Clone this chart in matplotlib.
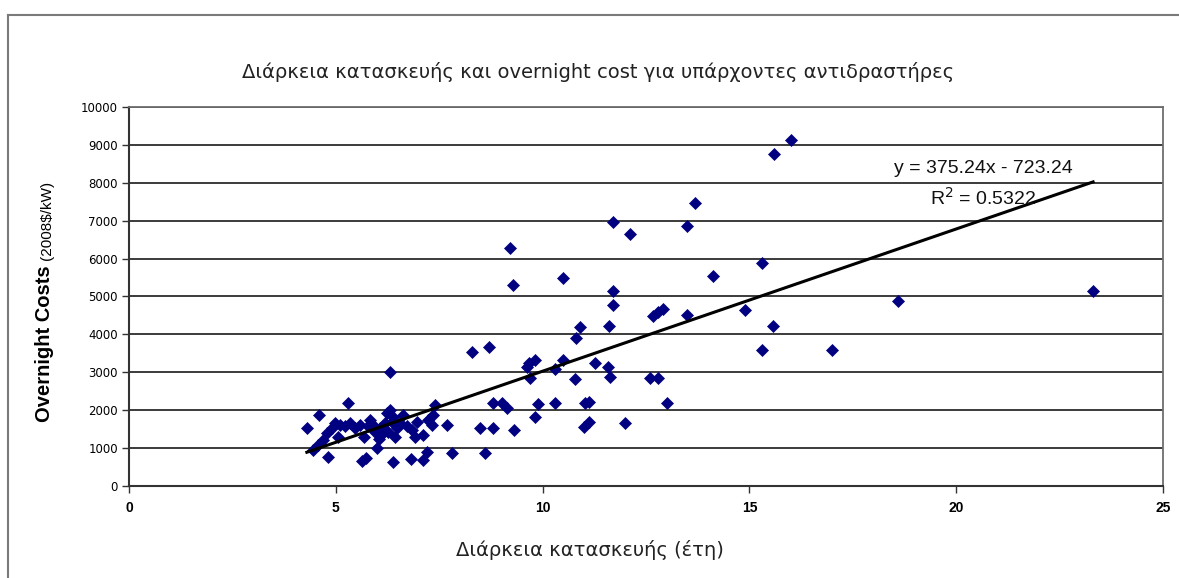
import matplotlib
matplotlib.use('Agg')
import matplotlib.pyplot as plt
from matplotlib.lines import Line2D

# construction time (years) and overnight cost (2008$/kW) per reactor
years = [4.30, 4.60, 5.30, 6.30, 4.80, 5.63, 5.72, 6.00, 6.39, 6.81,
         7.12, 7.20, 7.40, 7.70, 7.80, 4.46, 4.58, 4.70, 4.78, 4.90,
         4.98, 5.10, 5.22, 5.34, 5.47, 5.59, 5.67, 5.79, 5.83, 5.95,
         6.07, 6.19, 6.23, 6.31, 6.39, 6.27, 6.43, 6.47, 6.55, 6.72,
         6.84, 6.92, 6.96, 7.12, 7.24, 7.32, 7.36, 5.05, 5.90, 6.12,
         6.35, 6.62, 6.05, 8.30, 8.71, 9.68, 9.82, 9.62, 9.70, 10.30,
         10.50, 10.81, 10.79, 11.27, 11.59, 11.63, 8.81, 9.01, 9.13, 9.90,
         9.82, 10.30, 11.03, 11.11, 11.11, 10.99, 8.49, 8.81, 9.31, 8.61,
         9.21, 9.29, 10.50, 11.71, 12.12, 13.50, 13.69, 11.71, 11.71, 11.60,
         10.91, 12.68, 12.80, 12.92, 13.50, 14.11, 15.30, 14.90, 15.58, 15.30,
         12.60, 12.80, 13.00, 12.00, 15.59, 16.01, 23.31, 18.60, 17.00]
costs = [1530, 1870, 2200, 3020, 770, 670, 730, 1000, 640, 700,
         690, 900, 2140, 1610, 880, 950, 1080, 1210, 1390, 1520,
         1650, 1610, 1570, 1650, 1520, 1610, 1300, 1570, 1740, 1430,
         1520, 1650, 1920, 2000, 1830, 1430, 1300, 1520, 1650, 1570,
         1480, 1300, 1700, 1350, 1740, 1610, 1870, 1300, 1620, 1380,
         1700, 1880, 1250, 3530, 3680, 3240, 3330, 3150, 2840, 3100,
         3330, 3900, 2820, 3240, 3150, 2880, 2180, 2180, 2050, 2160,
         1810, 2200, 2180, 2220, 1690, 1560, 1520, 1520, 1480, 880,
         6270, 5300, 5500, 6970, 6650, 6850, 7470, 5150, 4780, 4230,
         4200, 4480, 4600, 4660, 4500, 5540, 5890, 4640, 4210, 3600,
         2860, 2860, 2180, 1650, 8750, 9130, 5150, 4880, 3590]

# linear trendline reported on the chart
trend_slope = 375.24
trend_intercept = -723.24
trend_label = 'y = 375.24x - 723.24'
r2_label = 'R$^2$ = 0.5322'

x_ticks = [0, 5, 10, 15, 20, 25]
y_ticks = [0, 1000, 2000, 3000, 4000, 5000, 6000, 7000, 8000, 9000, 10000]

title = 'Διάρκεια κατασκευής και overnight cost για υπάρχοντες αντιδραστήρες'
x_label = 'Διάρκεια κατασκευής (έτη)'

W, H = 1179, 578
fig = plt.figure(figsize=(W / 100, H / 100), dpi=100)
ax = fig.add_axes([129 / W, 1 - 486 / H, (1163 - 129) / W, (486 - 107) / H])

ax.set_xlim(0, 25)
ax.set_ylim(0, 10000)
ax.set_xticks(x_ticks)
ax.set_yticks(y_ticks)
ax.yaxis.grid(True, color='#1a1a1a', lw=1.2)
ax.set_axisbelow(True)

for side in ['left', 'bottom']:
    ax.spines[side].set_color('#333333')
    ax.spines[side].set_linewidth(1.5)
for side in ['top', 'right']:
    ax.spines[side].set_color('#6e6e6e')
    ax.spines[side].set_linewidth(1.3)

ax.tick_params(direction='out', length=5, width=1, color='#333333', pad=3)
ax.tick_params(axis='x', pad=6)
for lbl in ax.get_yticklabels():
    lbl.set_fontsize(8.5)
    lbl.set_family('DejaVu Sans')
for lbl in ax.get_xticklabels():
    lbl.set_fontsize(10)
    lbl.set_fontweight('bold')
    lbl.set_family('Liberation Sans')

ax.plot(years, costs, linestyle='none', marker='D', markersize=6.5,
        color='#000080', mec='#000080', mew=0.5, zorder=3)

x_lo, x_hi = min(years), max(years)
ax.plot([x_lo, x_hi],
        [trend_slope * x_lo + trend_intercept, trend_slope * x_hi + trend_intercept],
        color='black', lw=2.2, zorder=4)

ax.text(20.65, 8390, trend_label, ha='center', va='center',
        fontsize=14, family='Liberation Sans', color='#111111', zorder=5)
ax.text(20.65, 7600, r2_label, ha='center', va='center',
        fontsize=14, family='Liberation Sans', color='#111111', zorder=5)

fig.text(598 / W, 1 - 72 / H, title, ha='center', va='center',
         fontsize=14, family='DejaVu Sans', color='#222222')
fig.text(590 / W, 1 - 550 / H, x_label, ha='center', va='center',
         fontsize=14, family='DejaVu Sans', color='#222222')

# y axis title: bold part plus normal units
fig.text(45 / W, 1 - 422 / H, 'Overnight Costs', rotation=90,
         rotation_mode='anchor', ha='left', va='center',
         fontsize=14.5, fontweight='bold', family='Liberation Sans')
fig.text(47 / W, 1 - 260 / H, '(2008$/kW)', rotation=90,
         rotation_mode='anchor', ha='left', va='center',
         fontsize=11, family='Liberation Sans')

# outer chart frame
fig.add_artist(Line2D([8 / W, 8 / W], [0, 1 - 15 / H], color='#7a7a7a', lw=1.5))
fig.add_artist(Line2D([8 / W, 1], [1 - 15 / H, 1 - 15 / H], color='#7a7a7a', lw=1.5))

fig.savefig('out.png', dpi=100)
